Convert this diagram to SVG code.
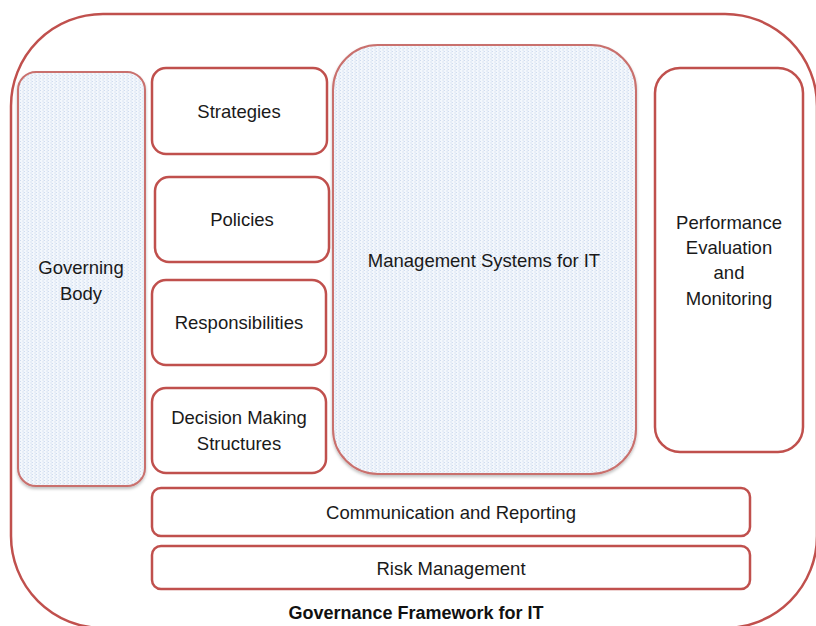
<svg xmlns="http://www.w3.org/2000/svg" width="816" height="626" viewBox="0 0 816 626">
  <defs>
    <!-- fine dotted light-blue texture used by the shaded boxes -->
    <pattern id="dots" width="4" height="3" patternUnits="userSpaceOnUse">
      <rect width="4" height="3" fill="#f3f7fc"/>
      <rect x="0" y="0" width="1" height="1" fill="#cfdcef"/>
      <rect x="2" y="1.5" width="1" height="1" fill="#dbe5f3"/>
      <rect x="3" y="0" width="1" height="3" fill="#e6edf7"/>
    </pattern>
    <filter id="shadow" x="-10%" y="-10%" width="120%" height="120%">
      <feDropShadow dx="0" dy="2" stdDeviation="1.5" flood-color="#000" flood-opacity="0.25"/>
    </filter>
  </defs>
  <style>
    .frame { fill: #ffffff; stroke: #c0504d; stroke-width: 2.5; }
    .box { fill: #ffffff; stroke: #c0504d; stroke-width: 2.5; }
    .shaded { fill: url(#dots); stroke: #c9706d; stroke-width: 2; filter: url(#shadow); }
    .label { font-family: "Liberation Sans", Arial, sans-serif; font-size: 18.5px; fill: #1a1a1a; text-anchor: middle; }
    .title { font-family: "Liberation Sans", Arial, sans-serif; font-size: 18px; font-weight: bold; fill: #111111; text-anchor: middle; }
  </style>

  <rect width="816" height="626" fill="#ffffff"/>

  <!-- outer framework container -->
  <g id="framework">
    <rect class="frame" x="11" y="14" width="806" height="614" rx="92" ry="92"/>
    <text class="title" x="416" y="619">Governance Framework for IT</text>
  </g>

  <g id="governing-body">
    <rect class="shaded" x="18" y="72" width="127" height="414" rx="18" ry="18"/>
    <text class="label" x="81" y="274">Governing</text>
    <text class="label" x="81" y="300">Body</text>
  </g>

  <g id="strategies">
    <rect class="box" x="152" y="68" width="175" height="86" rx="14" ry="14"/>
    <text class="label" x="239" y="118">Strategies</text>
  </g>

  <g id="policies">
    <rect class="box" x="155" y="177" width="174" height="85" rx="14" ry="14"/>
    <text class="label" x="242" y="226">Policies</text>
  </g>

  <g id="responsibilities">
    <rect class="box" x="152" y="280" width="174" height="85" rx="14" ry="14"/>
    <text class="label" x="239" y="329">Responsibilities</text>
  </g>

  <g id="decision-making">
    <rect class="box" x="152" y="388" width="174" height="85" rx="14" ry="14"/>
    <text class="label" x="239" y="424">Decision Making</text>
    <text class="label" x="239" y="450">Structures</text>
  </g>

  <g id="management-systems">
    <rect class="shaded" x="333" y="45" width="303" height="429" rx="45" ry="45"/>
    <text class="label" x="484" y="267">Management Systems for IT</text>
  </g>

  <g id="performance">
    <rect class="box" x="655" y="68" width="148" height="384" rx="25" ry="25"/>
    <text class="label" x="729" y="229">Performance</text>
    <text class="label" x="729" y="254">Evaluation</text>
    <text class="label" x="729" y="279">and</text>
    <text class="label" x="729" y="305">Monitoring</text>
  </g>

  <g id="communication">
    <rect class="box" x="152" y="488" width="598" height="48" rx="9" ry="9"/>
    <text class="label" x="451" y="519">Communication and Reporting</text>
  </g>

  <g id="risk-management">
    <rect class="box" x="152" y="546" width="598" height="43" rx="9" ry="9"/>
    <text class="label" x="451" y="575">Risk Management</text>
  </g>

  <!-- the framework has no connectors -->
  <g id="connectors"/>
</svg>
